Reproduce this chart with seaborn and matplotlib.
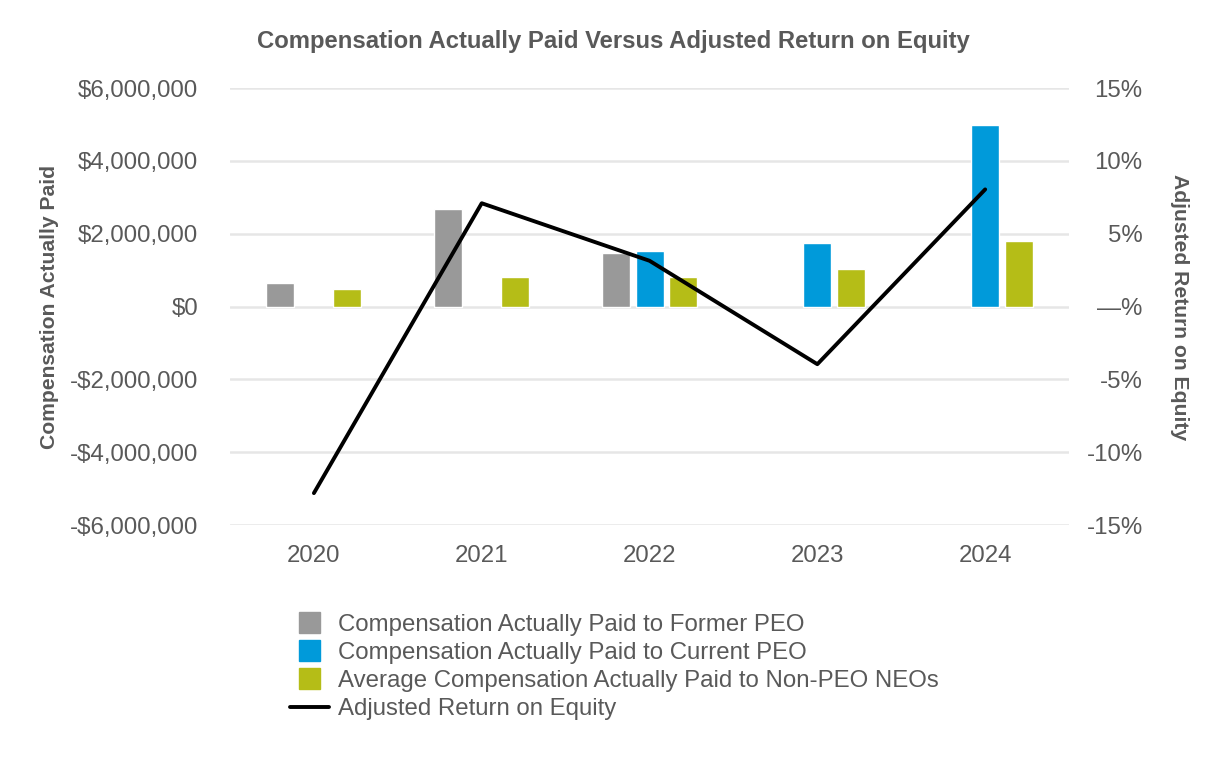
"""
Compensation actually paid vs adjusted return on equity
"""

import numpy as np
import pandas as pd
import seaborn as sns
from matplotlib import pyplot as plt
from matplotlib.patches import Patch, Rectangle
from matplotlib.lines import Line2D
from matplotlib.legend_handler import HandlerPatch

years = ["2020", "2021", "2022", "2023", "2024"]
former_peo = [645000, 2680000, 1470000, np.nan, np.nan]
current_peo = [np.nan, np.nan, 1520000, 1740000, 4990000]
non_peo_neos = [480000, 810000, 810000, 1030000, 1800000]
adj_roe = [-12.8, 7.1, 3.15, -3.95, 8.05]

series_names = [
    "Compensation Actually Paid to Former PEO",
    "Compensation Actually Paid to Current PEO",
    "Average Compensation Actually Paid to Non-PEO NEOs",
]
colors = ["#999999", "#009ADA", "#B5BD17"]
text_color = "#595959"

# long table for seaborn
df = pd.DataFrame({
    "year": years * 3,
    "series": [s for s in series_names for _ in years],
    "value": former_peo + current_peo + non_peo_neos,
})

sns.set_style("white")
plt.rcParams["font.family"] = ["Liberation Sans", "DejaVu Sans"]
plt.rcParams["text.color"] = text_color
plt.rcParams["axes.labelcolor"] = text_color
plt.rcParams["xtick.color"] = text_color
plt.rcParams["ytick.color"] = text_color

fig = plt.figure(figsize=(12.26, 7.6), dpi=100)
ax = fig.add_axes([0.1876, 0.309, 0.6844, 0.575])

sns.barplot(data=df, x="year", y="value", hue="series", hue_order=series_names,
            palette=colors, width=0.6, gap=0.165, ax=ax, legend=False,
            saturation=1, errorbar=None)

# left axis
ax.set_ylim(-6000000, 6000000)
ticks = np.arange(-6000000, 6000001, 2000000)
ax.set_yticks(ticks)
ax.set_yticklabels([f"-${abs(t):,.0f}" if t < 0 else f"${t:,.0f}" for t in ticks])
ax.set_xlim(-0.5, 4.5)
ax.set_xlabel("")
ax.set_ylabel("Compensation Actually Paid", fontsize=15.2, fontweight="bold", labelpad=8)
ax.grid(axis="y", color="#E6E6E6", lw=1.8)
ax.set_axisbelow(True)
ax.tick_params(axis="y", length=0, labelsize=17.3, pad=23)
ax.tick_params(axis="x", length=0, labelsize=17.3, pad=14)
for s in ax.spines.values():
    s.set_visible(False)

# right axis with the ROE line
ax2 = ax.twinx()
sns.lineplot(x=np.arange(len(years)), y=adj_roe, ax=ax2, color="black", lw=2.8)
ax2.set_ylim(-15, 15)
rticks = np.arange(-15, 16, 5)
ax2.set_yticks(rticks)
ax2.set_yticklabels(["\u2014%" if t == 0 else f"{t}%" for t in rticks])
ax2.tick_params(axis="y", length=0, labelsize=17.3, pad=53)
for lab in ax2.get_yticklabels():
    lab.set_horizontalalignment("right")
ax2.set_ylabel("Adjusted Return on Equity", fontsize=15.2, fontweight="bold",
               rotation=270, labelpad=33)
for s in ax2.spines.values():
    s.set_visible(False)

fig.suptitle("Compensation Actually Paid Versus Adjusted Return on Equity",
             fontsize=17.2, fontweight="bold", color=text_color, x=0.5, y=0.96)


# square patches in the legend, centred in the handle box
def square_patch(legend, orig_handle, xdescent, ydescent, width, height, fontsize):
    side = height * 1.3
    return Rectangle((width / 2 - side / 2 - xdescent, height / 2 - side / 2 - ydescent),
                     side, side)


handles = [Patch(color=c) for c in colors] + [Line2D([], [], color="black", lw=2.8)]
labels = series_names + ["Adjusted Return on Equity"]
fig.legend(handles, labels, loc="upper left", bbox_to_anchor=(0.2267, 0.208),
           frameon=False, fontsize=17.3, labelspacing=0.25, handlelength=1.63,
           handleheight=0.7, handletextpad=0.37, borderpad=0, labelcolor=text_color,
           handler_map={Patch: HandlerPatch(patch_func=square_patch)})

plt.savefig("out.png", dpi=100)
